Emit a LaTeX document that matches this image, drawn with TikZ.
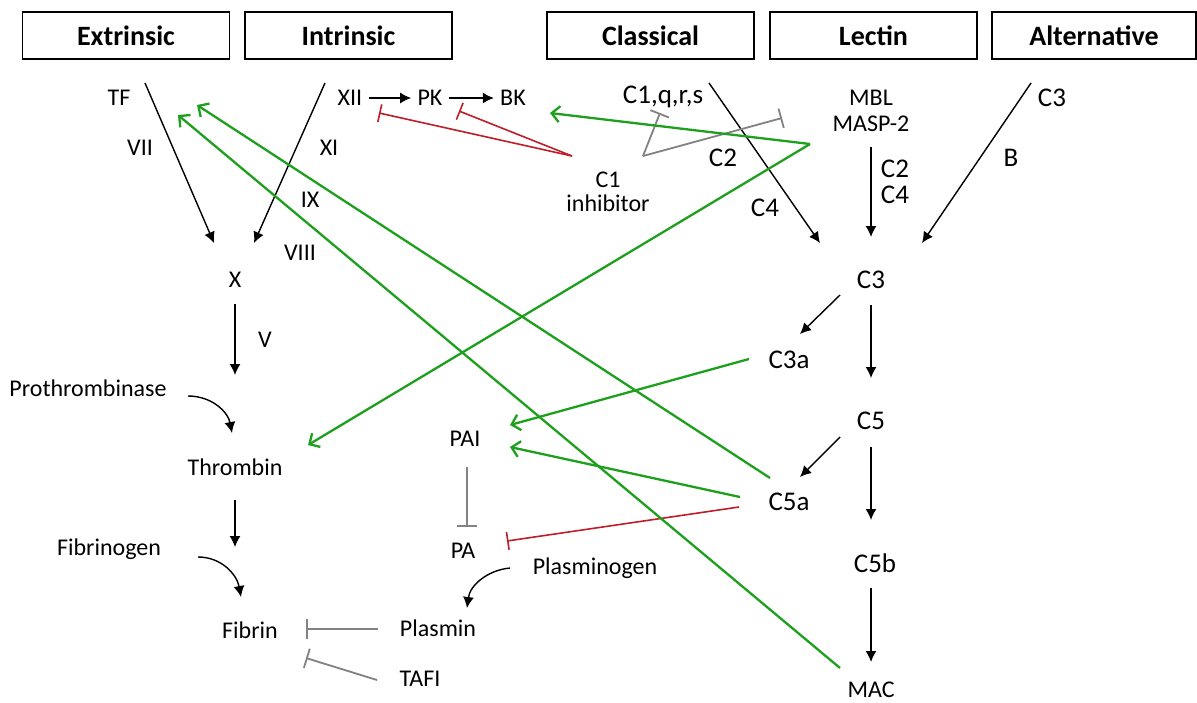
\documentclass[tikz,border=0pt]{standalone}
\usepackage{fontspec}
\setmainfont{Carlito}
\usetikzlibrary{arrows.meta}

\definecolor{actgreen}{RGB}{30,160,30}
\definecolor{inhred}{RGB}{190,30,40}
\definecolor{inhgrey}{RGB}{130,130,130}

\begin{document}
\begin{tikzpicture}[x=0.5pt,y=-0.5pt,
  pathbox/.style={draw,line width=0.8pt,minimum width=103.5pt,minimum height=23.5pt,
    font=\fontsize{14}{16}\selectfont\bfseries},
  lbl/.style={font=\fontsize{12}{14}\selectfont,inner sep=0pt,align=center},
  biglbl/.style={font=\fontsize{13.5}{15}\selectfont,inner sep=0pt,align=center},
  blk/.style={-{Latex[length=5.5pt,width=5.5pt]},line width=0.7pt},
  act/.style={-{Straight Barb[length=4pt,width=8pt]},actgreen,line width=1.15pt},
  inhr/.style={-{Bar[width=9pt]},inhred,line width=0.8pt},
  inhg/.style={-{Bar[width=10pt]},inhgrey,line width=0.9pt}]
\fill[white] (0,0) rectangle (1197,702);
\useasboundingbox (0,0) rectangle (1197,702);

% pathway boxes
\node[pathbox] (extr) at (126,35.5) {Extrinsic};
\node[pathbox] (intr) at (348.5,35.5) {Intrinsic};
\node[pathbox] (class) at (650.5,35.5) {Classical};
\node[pathbox] (lect) at (873.5,35.5) {Lectin};
\node[pathbox,minimum width=102pt] (alt) at (1094,35.5) {Alternative};

% coagulation
\node[lbl] (tf) at (119,98) {TF};
\node[lbl] (vii) at (140,148) {VII};
\node[lbl] (xi) at (329,148) {XI};
\node[lbl] (ix) at (310,200) {IX};
\node[lbl] (viii) at (300,253) {VIII};
\node[lbl,inner sep=3pt] (xii) at (350,98) {XII};
\node[lbl,inner sep=3pt] (pk) at (430,98) {PK};
\node[lbl,inner sep=3pt] (bk) at (513,98) {BK};
\node[lbl] (x) at (235,280) {X};
\node[lbl] (v) at (265,340) {V};
\node[lbl] (prothr) at (88,388) {Prothrombinase};
\node[lbl] (thromb) at (235,467) {Thrombin};
\node[lbl] (fgen) at (109,549) {Fibrinogen};
\node[lbl] (fibrin) at (250,630) {Fibrin};

% fibrinolysis
\node[lbl] (pai) at (465,439) {PAI};
\node[lbl] (pa) at (463,551) {PA};
\node[lbl] (plgen) at (595,568) {Plasminogen};
\node[lbl] (plasmin) at (438,628) {Plasmin};
\node[lbl] (tafi) at (420,679) {TAFI};

% complement
\node[biglbl] (c1qrs) at (663,97) {C1,q,r,s};
\node[lbl] (c1inh) at (608,192) {C1\\[-2pt]inhibitor};
\node[biglbl] (c2cl) at (723,158) {C2};
\node[biglbl] (c4cl) at (765,208) {C4};
\node[lbl] (mbl) at (871,111) {MBL\\[-1pt]MASP-2};
\node[biglbl] (c2c4) at (895,182) {C2\\[-2pt]C4};
\node[biglbl] (c3alt) at (1052,98) {C3};
\node[biglbl] (b) at (1011,158) {B};
\node[biglbl] (c3) at (871,280) {C3};
\node[biglbl] (c3a) at (789,360) {C3a};
\node[biglbl] (c5) at (871,421) {C5};
\node[biglbl] (c5a) at (789,502) {C5a};
\node[biglbl] (c5b) at (875,563) {C5b};
\node[lbl] (mac) at (871,690) {MAC};

% free ends
\coordinate (tfs) at (145,83);
\coordinate (tfe) at (214,243);
\coordinate (ints) at (325,83);
\coordinate (inte) at (254,243);
\coordinate (xe) at (235,375);
\coordinate (thre) at (235,547);
\coordinate (cls) at (709,83);
\coordinate (cle) at (820,243);
\coordinate (lcs) at (871,147);
\coordinate (lce) at (871,237);
\coordinate (als) at (1031,83);
\coordinate (ale) at (922,243);
\coordinate (redv) at (572,156);
\coordinate (greyv) at (643,156);
\coordinate (greenv) at (810,144);

% black arrows
\draw[blk] (tfs) -- (tfe);
\draw[blk] (ints) -- (inte);
\draw[blk] (xii) -- (pk);
\draw[blk] (pk) -- (bk);
\draw[blk,shorten <=8pt] (x) -- (xe);
\draw[blk] (188,396) .. controls (212,396) and (228,412) .. (232,433);
\draw[blk,shorten <=12pt] (thromb) -- (thre);
\draw[blk] (198,557) .. controls (222,557) and (237,575) .. (241,597);
\draw[blk] (510,568) .. controls (488,570) and (470,585) .. (467,608);
\draw[blk] (cls) -- (cle);
\draw[blk] (lcs) -- (lce);
\draw[blk] (als) -- (ale);
\draw[blk] (840,295) -- (800,334);
\draw[blk] (871,305) -- (871,378);
\draw[blk] (840,437) -- (800,477);
\draw[blk] (871,447) -- (871,520);
\draw[blk] (871,588) -- (871,662);

% inhibition
\draw[inhg] (467,467) -- (467,527);
\draw[inhg] (378,629) -- (306,629);
\draw[inhg] (377,680) -- (306,658);
\draw[inhg] (greyv) -- (660,113);
\draw[inhg] (greyv) -- (782,118);
\draw[inhr] (redv) -- (379,113);
\draw[inhr] (redv) -- (459,111);
\draw[inhr] (739,507) -- (507,541);

% activation
\draw[act] (greenv) -- (550,113);
\draw[act] (greenv) -- (308,445);
\draw[act] (749,359) -- (510,425);
\draw[act] (740,497) -- (510,447);
\draw[act] (770,478) -- (197,105);
\draw[act] (840,668) -- (178,115);
\end{tikzpicture}
\end{document}
